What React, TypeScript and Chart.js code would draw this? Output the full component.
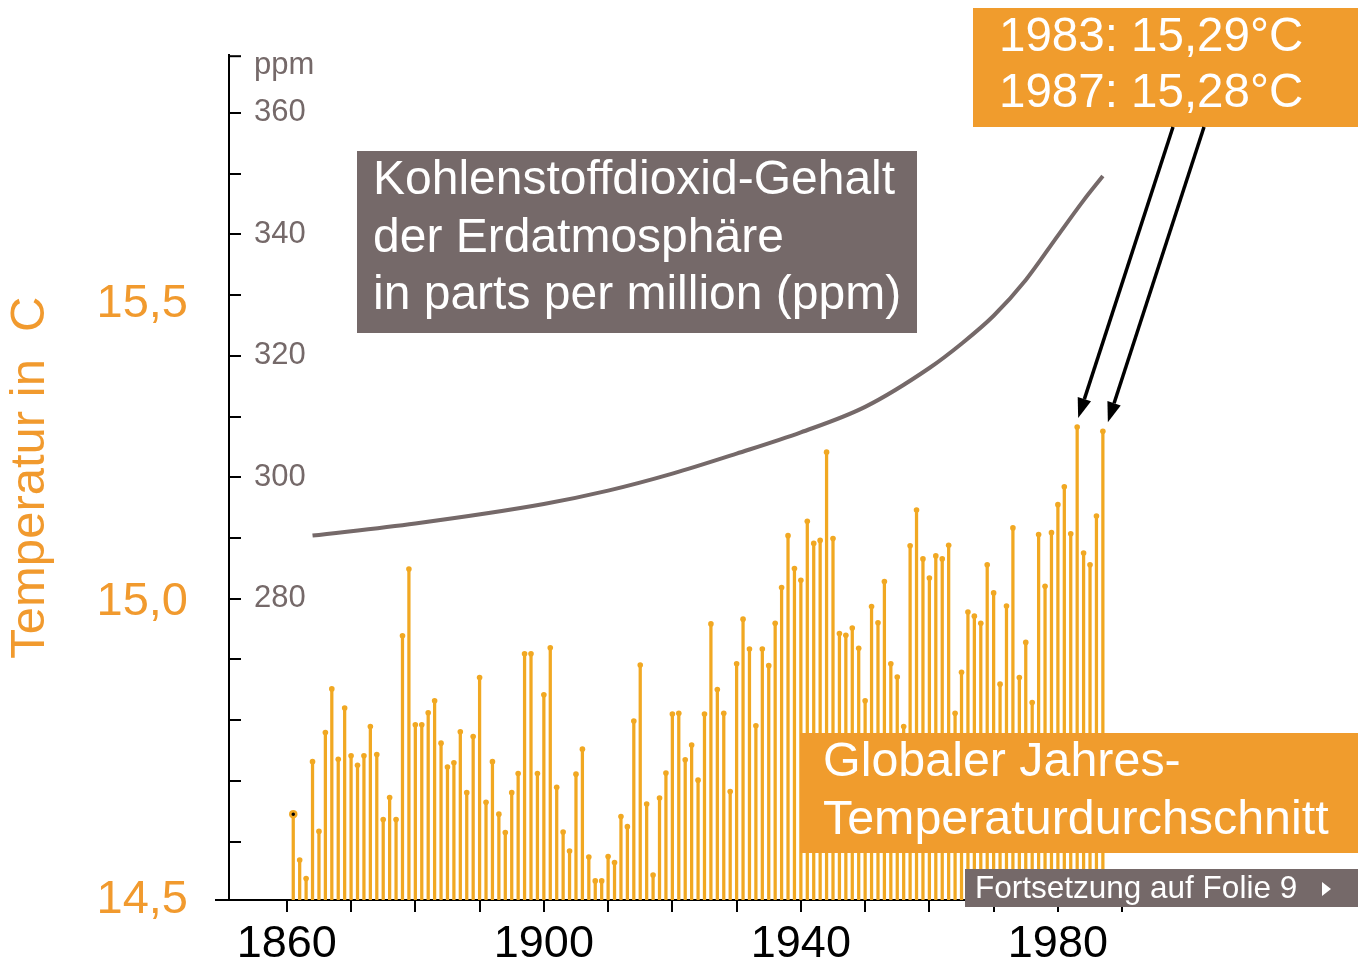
import React, { useEffect, useRef } from 'react';
import { Chart, registerables } from 'chart.js';

Chart.register(...registerables);

const FONT = '"Liberation Sans", Arial, Helvetica, sans-serif';
const BAR_COLOR = '#F1A822';
const BOX_ORANGE = '#F09C2D';
const LABEL_ORANGE = '#F19A2E';
const GRAY = '#756969';

// Global annual mean temperature (°C), one value per year
const tempYears = [
  1861, 1862, 1863, 1864, 1865, 1866, 1867, 1868, 1869, 1870,
  1871, 1872, 1873, 1874, 1875, 1876, 1877, 1878, 1879, 1880,
  1881, 1882, 1883, 1884, 1885, 1886, 1887, 1888, 1889, 1890,
  1891, 1892, 1893, 1894, 1895, 1896, 1897, 1898, 1899, 1900,
  1901, 1902, 1903, 1904, 1905, 1906, 1907, 1908, 1909, 1910,
  1911, 1912, 1913, 1914, 1915, 1916, 1917, 1918, 1919, 1920,
  1921, 1922, 1923, 1924, 1925, 1926, 1927, 1928, 1929, 1930,
  1931, 1932, 1933, 1934, 1935, 1936, 1937, 1938, 1939, 1940,
  1941, 1942, 1943, 1944, 1945, 1946, 1947, 1948, 1949, 1950,
  1951, 1952, 1953, 1954, 1955, 1956, 1957, 1958, 1959, 1960,
  1961, 1962, 1963, 1964, 1965, 1966, 1967, 1968, 1969, 1970,
  1971, 1972, 1973, 1974, 1975, 1976, 1977, 1978, 1979, 1980,
  1981, 1982, 1983, 1984, 1985, 1986, 1987,
];

const tempValues = [
  14.644, 14.567, 14.536, 14.732, 14.615, 14.781, 14.854, 14.736, 14.822, 14.742,
  14.726, 14.742, 14.791, 14.744, 14.635, 14.672, 14.635, 14.943, 15.055, 14.794,
  14.794, 14.814, 14.834, 14.763, 14.723, 14.730, 14.782, 14.680, 14.774, 14.873,
  14.664, 14.732, 14.644, 14.613, 14.680, 14.712, 14.913, 14.913, 14.712, 14.844,
  14.923, 14.689, 14.614, 14.582, 14.711, 14.753, 14.572, 14.532, 14.532, 14.573,
  14.563, 14.640, 14.623, 14.800, 14.894, 14.661, 14.542, 14.671, 14.713, 14.812,
  14.813, 14.735, 14.760, 14.701, 14.812, 14.963, 14.853, 14.813, 14.682, 14.896,
  14.971, 14.921, 14.792, 14.921, 14.893, 14.964, 15.024, 15.111, 15.056, 15.036,
  15.135, 15.098, 15.103, 15.251, 15.106, 14.947, 14.944, 14.956, 14.922, 14.834,
  14.992, 14.965, 15.034, 14.896, 14.874, 14.791, 15.094, 15.154, 15.072, 15.040,
  15.077, 15.072, 15.095, 14.813, 14.882, 14.983, 14.976, 14.964, 15.062, 15.015,
  14.862, 14.993, 15.124, 14.873, 14.932, 14.831, 15.113, 15.026, 15.116, 15.163,
  15.193, 15.114, 15.293, 15.082, 15.062, 15.144, 15.286,
];

// CO2 content of the atmosphere (ppm)
const co2Years = [1864, 1880, 1900, 1910, 1920, 1930, 1940, 1950, 1960, 1965, 1970, 1975, 1980, 1984, 1987];
const co2Values = [290.4, 292.4, 295.6, 297.8, 300.6, 303.9, 307.4, 311.6, 318.0, 322.0, 326.6, 332.5, 339.8, 345.6, 349.6];

// Axis ticks
const xTickYears = [1860, 1870, 1880, 1890, 1900, 1910, 1920, 1930, 1940, 1950, 1960, 1970, 1980, 1990];
const xLabelYears = [1860, 1900, 1940, 1980];
const tempTicks = [14.5, 15.0, 15.5];
const ppmTicks = [240, 250, 260, 270, 280, 290, 300, 310, 320, 330, 340, 350, 360];
const ppmLabelValues = [280, 300, 320, 340, 360];

const highlightYears = [1983, 1987];

const drawBox = (
  ctx: CanvasRenderingContext2D,
  x: number, y: number, w: number, h: number, color: string,
  lines: string[], size: number, tx: number, firstY: number, lineH: number,
) => {
  ctx.fillStyle = color;
  ctx.fillRect(x, y, w, h);
  ctx.fillStyle = '#FFFFFF';
  ctx.font = `${size}px ${FONT}`;
  ctx.textAlign = 'left';
  ctx.textBaseline = 'middle';
  lines.forEach((l, i) => ctx.fillText(l, tx, firstY + i * lineH));
};

const drawArrow = (ctx: CanvasRenderingContext2D, x0: number, y0: number, x1: number, y1: number) => {
  const ang = Math.atan2(y1 - y0, x1 - x0);
  const len = 20;
  const hw = 7;
  const bx = x1 - Math.cos(ang) * len;
  const by = y1 - Math.sin(ang) * len;
  ctx.strokeStyle = '#000';
  ctx.lineWidth = 3.5;
  ctx.beginPath();
  ctx.moveTo(x0, y0);
  ctx.lineTo(bx, by);
  ctx.stroke();
  ctx.fillStyle = '#000';
  ctx.beginPath();
  ctx.moveTo(x1, y1);
  ctx.lineTo(bx - Math.sin(ang) * hw, by + Math.cos(ang) * hw);
  ctx.lineTo(bx + Math.sin(ang) * hw, by - Math.cos(ang) * hw);
  ctx.closePath();
  ctx.fill();
};

const overlayPlugin = {
  id: 'overlay',
  afterDraw(chart: any) {
    const ctx: CanvasRenderingContext2D = chart.ctx;
    const xs = chart.scales.x;
    const yt = chart.scales.y;
    const yp = chart.scales.yPpm;
    const ax = chart.chartArea.left;
    const top = chart.chartArea.top;
    ctx.save();
    // inward ppm tick marks (plus cap at the top of the axis)
    ctx.strokeStyle = '#000';
    ctx.lineWidth = 2;
    const marks = ppmTicks.map((v) => Math.round(yp.getPixelForValue(v)));
    marks.push(top + 1);
    marks.forEach((py) => {
      ctx.beginPath();
      ctx.moveTo(ax, py);
      ctx.lineTo(ax + 12, py);
      ctx.stroke();
    });
    // unit label at the top of the ppm scale
    ctx.fillStyle = GRAY;
    ctx.font = `31px ${FONT}`;
    ctx.textAlign = 'left';
    ctx.textBaseline = 'middle';
    ctx.fillText('ppm', ax + 25, top + 10);

    // annotation boxes
    drawBox(ctx, 357, 151, 560, 182, GRAY,
      ['Kohlenstoffdioxid-Gehalt', 'der Erdatmosphäre', 'in parts per million (ppm)'],
      48, 373, 181, 57.5);
    drawBox(ctx, 973, 8, 385, 119, BOX_ORANGE,
      ['1983: 15,29°C', '1987: 15,28°C'], 47.5, 999, 38, 56);
    drawBox(ctx, 800, 733, 558, 120, BOX_ORANGE,
      ['Globaler Jahres-', 'Temperaturdurchschnitt'], 48.4, 823, 763, 58);
    drawBox(ctx, 965, 869, 393, 38, GRAY,
      ['Fortsetzung auf Folie 9'], 31.5, 975, 889, 0);
    ctx.fillStyle = '#FFFFFF';
    ctx.beginPath();
    ctx.moveTo(1322, 882);
    ctx.lineTo(1331, 889);
    ctx.lineTo(1322, 896);
    ctx.closePath();
    ctx.fill();

    // arrows to the record years
    const starts = [[1173, 127], [1204, 127]];
    highlightYears.forEach((yr, i) => {
      const idx = tempYears.indexOf(yr);
      const tipX = xs.getPixelForValue(yr) + (i === 0 ? 1 : 5);
      const tipY = yt.getPixelForValue(tempValues[idx]) - 9;
      drawArrow(ctx, starts[i][0], starts[i][1], tipX, tipY);
    });
    ctx.restore();
  },
};

export default function App() {
  const ref = useRef<HTMLCanvasElement | null>(null);

  useEffect(() => {
    if (!ref.current) return;
    Chart.defaults.font.family = FONT;
    const tempPoints = tempYears.map((yr, i) => ({ x: yr, y: tempValues[i] }));
    const co2Points = co2Years.map((yr, i) => ({ x: yr, y: co2Values[i] }));

    const chart = new Chart(ref.current, {
      type: 'bar',
      data: {
        datasets: [
          {
            type: 'line',
            data: co2Points,
            yAxisID: 'yPpm',
            xAxisID: 'x',
            borderColor: GRAY,
            borderWidth: 4,
            pointRadius: 0,
            cubicInterpolationMode: 'monotone',
            fill: false,
            order: 0,
          } as any,
          {
            type: 'line',
            data: tempPoints,
            yAxisID: 'y',
            xAxisID: 'x',
            showLine: false,
            pointRadius: (c: any) => (c.dataIndex === 0 ? 3 : 2.8),
            pointBorderWidth: (c: any) => (c.dataIndex === 0 ? 2.5 : 0),
            pointBackgroundColor: (c: any) => (c.dataIndex === 0 ? '#000' : BAR_COLOR),
            pointBorderColor: BAR_COLOR,
            order: 1,
          } as any,
          {
            type: 'bar',
            data: tempPoints,
            yAxisID: 'y',
            xAxisID: 'x',
            backgroundColor: BAR_COLOR,
            barThickness: 2.6,
            order: 2,
          } as any,
        ],
      },
      options: {
        responsive: false,
        animation: false,
        devicePixelRatio: 1,
        layout: { padding: { top: 50, right: 233, left: 0, bottom: 0 } },
        plugins: { legend: { display: false }, tooltip: { enabled: false } },
        scales: {
          x: {
            type: 'linear',
            position: 'bottom',
            offset: false,
            min: 1851,
            max: 1992,
            afterBuildTicks: (s: any) => { s.ticks = xTickYears.map((v) => ({ value: v })); },
            afterFit: (s: any) => { s.height = 65; },
            ticks: {
              autoSkip: false,
              maxRotation: 0,
              padding: 6,
              color: '#000',
              font: { size: 45 },
              callback: (v: any) => (xLabelYears.includes(Number(v)) ? String(v) : ''),
            },
            grid: { display: true, offset: false, drawOnChartArea: false, drawTicks: true, tickLength: 12, color: '#000', lineWidth: 2 },
            border: { display: true, color: '#000', width: 2 },
          },
          y: {
            type: 'linear',
            position: 'left',
            weight: 1,
            min: 14.5,
            max: 14.5 + 850 / 600,
            afterBuildTicks: (s: any) => { s.ticks = tempTicks.map((v) => ({ value: v })); },
            afterFit: (s: any) => { s.width = 229; },
            ticks: {
              padding: 27,
              color: LABEL_ORANGE,
              font: { size: 47 },
              callback: (v: any) => Number(v).toFixed(1).replace('.', ','),
            },
            grid: {
              display: true,
              drawOnChartArea: false,
              drawTicks: true,
              tickLength: 14,
              lineWidth: 2,
              color: (c: any) => (c.tick && c.tick.value === 14.5 ? '#000' : 'rgba(0,0,0,0)'),
            },
            border: { display: true, color: '#000', width: 2 },
            title: {
              display: true,
              text: 'Temperatur in  C',
              color: LABEL_ORANGE,
              font: { size: 49 },
              padding: { top: 1, bottom: 0 },
            },
          },
          yPpm: {
            type: 'linear',
            position: 'left',
            weight: 0,
            min: 230.4,
            max: 369.5,
            afterBuildTicks: (s: any) => { s.ticks = ppmTicks.map((v) => ({ value: v })); },
            afterFit: (s: any) => { s.width = 0; },
            ticks: {
              mirror: true,
              padding: 25,
              color: GRAY,
              font: { size: 31 },
              callback: (v: any) => (ppmLabelValues.includes(Number(v)) ? String(v) : ''),
            },
            grid: { display: false, drawTicks: false, drawOnChartArea: false },
            border: { display: false },
          },
        },
      },
      plugins: [overlayPlugin],
    } as any);

    return () => chart.destroy();
  }, []);

  return (
    <div style={{ position: 'absolute', left: 0, top: 0, width: 1368, height: 965, background: '#fff' }}>
      <canvas ref={ref} width={1368} height={965} style={{ display: 'block' }} />
    </div>
  );
}
